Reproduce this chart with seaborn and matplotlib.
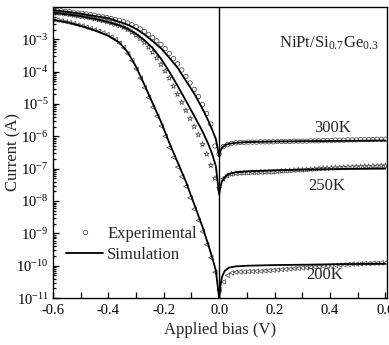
import matplotlib
matplotlib.use("Agg")
import matplotlib.pyplot as plt
from matplotlib.lines import Line2D
from matplotlib.ticker import FixedLocator, FixedFormatter, LogLocator, NullFormatter, MultipleLocator
import numpy as np
import pandas as pd
import seaborn as sns

# ---- measured I-V sweep (bias in V, log10 of current in A) ----
bias_exp = [-0.600, -0.585, -0.570, -0.555, -0.540, -0.525, -0.510, -0.495, -0.480, -0.465,
            -0.450, -0.435, -0.420, -0.405, -0.390, -0.375, -0.360, -0.345, -0.330, -0.315,
            -0.300, -0.285, -0.270, -0.255, -0.240, -0.225, -0.210, -0.195, -0.180, -0.165,
            -0.150, -0.135, -0.120, -0.105, -0.090, -0.075, -0.060, -0.045, -0.030, -0.015,
            0.000, 0.015, 0.030, 0.045, 0.060, 0.075, 0.090, 0.105, 0.120, 0.135,
            0.150, 0.165, 0.180, 0.195, 0.210, 0.225, 0.240, 0.255, 0.270, 0.285,
            0.300, 0.315, 0.330, 0.345, 0.360, 0.375, 0.390, 0.405, 0.420, 0.435,
            0.450, 0.465, 0.480, 0.495, 0.510, 0.525, 0.540, 0.555, 0.570, 0.585, 0.600]

log_exp_300 = [-2.09, -2.11, -2.12, -2.14, -2.15, -2.17, -2.19, -2.20, -2.22, -2.24,
               -2.26, -2.29, -2.31, -2.33, -2.36, -2.39, -2.42, -2.46, -2.50, -2.55,
               -2.61, -2.68, -2.76, -2.85, -2.95, -3.05, -3.16, -3.29, -3.44, -3.60,
               -3.76, -3.95, -4.15, -4.35, -4.55, -4.77, -5.02, -5.30, -5.62, -6.30,
               -6.55, -6.32, -6.26, -6.22, -6.20, -6.19, -6.19, -6.18, -6.18, -6.18,
               -6.17, -6.17, -6.17, -6.17, -6.16, -6.16, -6.16, -6.16, -6.15, -6.15,
               -6.15, -6.15, -6.14, -6.14, -6.14, -6.13, -6.13, -6.13, -6.12, -6.12,
               -6.12, -6.11, -6.11, -6.11, -6.10, -6.10, -6.10, -6.10, -6.09, -6.09, -6.09]

log_exp_250 = [-2.17, -2.19, -2.20, -2.22, -2.24, -2.26, -2.28, -2.30, -2.32, -2.34,
               -2.37, -2.40, -2.43, -2.46, -2.50, -2.54, -2.58, -2.63, -2.70, -2.78,
               -2.87, -2.98, -3.10, -3.24, -3.40, -3.58, -3.78, -3.98, -4.20, -4.45,
               -4.70, -4.95, -5.20, -5.45, -5.70, -5.95, -6.25, -6.55, -6.90, -7.30,
               -7.60, -7.32, -7.22, -7.17, -7.15, -7.14, -7.13, -7.13, -7.12, -7.12,
               -7.11, -7.11, -7.10, -7.10, -7.09, -7.08, -7.07, -7.06, -7.05, -7.04,
               -7.04, -7.03, -7.02, -7.01, -7.00, -6.99, -6.99, -6.98, -6.97, -6.97,
               -6.96, -6.95, -6.95, -6.94, -6.94, -6.93, -6.93, -6.92, -6.92, -6.91, -6.91]

log_exp_200 = [-2.39, -2.41, -2.43, -2.46, -2.49, -2.52, -2.56, -2.59, -2.63, -2.67,
               -2.71, -2.75, -2.80, -2.86, -2.93, -3.01, -3.12, -3.26, -3.45, -3.66,
               -3.92, -4.20, -4.50, -4.80, -5.10, -5.38, -5.68, -6.00, -6.35, -6.65,
               -6.95, -7.25, -7.55, -7.90, -8.25, -8.60, -8.95, -9.35, -9.75, -10.20,
               -10.75, -10.50, -10.30, -10.22, -10.20, -10.19, -10.19, -10.18, -10.18, -10.17,
               -10.17, -10.16, -10.15, -10.14, -10.13, -10.12, -10.11, -10.10, -10.09, -10.08,
               -10.07, -10.06, -10.05, -10.04, -10.03, -10.02, -10.01, -10.00, -9.99, -9.98,
               -9.97, -9.96, -9.95, -9.95, -9.94, -9.93, -9.93, -9.92, -9.92, -9.91, -9.91]

# ---- simulated curves ----
bias_sim = [-0.60, -0.55, -0.50, -0.45, -0.40, -0.36, -0.33, -0.30, -0.27, -0.24,
            -0.21, -0.18, -0.15, -0.12, -0.09, -0.06, -0.04, -0.025, -0.012, 0.0,
            0.005, 0.01, 0.02, 0.035, 0.06, 0.10, 0.20, 0.30, 0.45, 0.60]

log_sim_300 = [-2.10, -2.15, -2.21, -2.28, -2.35, -2.46, -2.55, -2.68, -2.85, -3.06,
               -3.28, -3.57, -3.88, -4.28, -4.68, -5.15, -5.50, -5.80, -6.08, -6.62,
               -6.45, -6.36, -6.28, -6.23, -6.20, -6.18, -6.16, -6.15, -6.14, -6.13]

log_sim_250 = [-2.18, -2.23, -2.29, -2.37, -2.47, -2.57, -2.68, -2.83, -3.03, -3.27,
               -3.60, -4.00, -4.44, -4.90, -5.37, -5.85, -6.22, -6.55, -6.92, -7.80,
               -7.55, -7.40, -7.26, -7.16, -7.11, -7.08, -7.05, -7.03, -7.01, -7.00]

log_sim_200 = [-2.40, -2.47, -2.58, -2.72, -2.89, -3.10, -3.40, -3.85, -4.40, -4.98,
               -5.55, -6.20, -6.80, -7.40, -8.10, -8.80, -9.33, -9.75, -10.15, -11.00,
               -10.60, -10.35, -10.16, -10.06, -10.02, -10.00, -9.98, -9.97, -9.95, -9.94]

temps = ["300K", "250K", "200K"]
markers = {"300K": "o", "250K": "*", "200K": "<"}
marker_sizes = {"300K": 10, "250K": 15, "200K": 10}

exp_logs = {"300K": log_exp_300, "250K": log_exp_250, "200K": log_exp_200}
sim_logs = {"300K": log_sim_300, "250K": log_sim_250, "200K": log_sim_200}

exp_df = pd.concat([
    pd.DataFrame({"bias": bias_exp, "current": 10.0 ** np.array(exp_logs[t]), "T": t})
    for t in temps], ignore_index=True)
sim_df = pd.concat([
    pd.DataFrame({"bias": bias_sim, "current": 10.0 ** np.array(sim_logs[t]), "T": t})
    for t in temps], ignore_index=True)

sns.set_theme(style="ticks")
plt.rcParams["font.family"] = ["Liberation Serif", "DejaVu Serif"]
plt.rcParams["mathtext.fontset"] = "custom"
plt.rcParams["mathtext.rm"] = "Liberation Serif"
plt.rcParams["mathtext.it"] = "Liberation Serif:italic"
plt.rcParams["mathtext.bf"] = "Liberation Serif:bold"
plt.rcParams["axes.linewidth"] = 1.0

fig = plt.figure(figsize=(3.89, 3.45), dpi=100)
ax = fig.add_axes([0.136, 0.136, 0.859, 0.844])
ax.set_yscale("log")

for t in temps:
    sub = exp_df[exp_df["T"] == t]
    sns.scatterplot(data=sub, x="bias", y="current", marker=markers[t],
                    s=marker_sizes[t], facecolors="none", edgecolors="#4a4a4a",
                    linewidths=0.55, ax=ax, legend=False, zorder=3)

for t in temps:
    sub = sim_df[sim_df["T"] == t]
    sns.lineplot(data=sub, x="bias", y="current", color="black", lw=1.3,
                 sort=False, estimator=None, ax=ax, legend=False, zorder=4)

ax.axvline(0.0, color="black", lw=1.0, zorder=2)

ax.set_xlim(-0.6, 0.606)
ax.set_ylim(1e-11, 1e-2)

# x ticks: labels every 0.2 V, extra ticks every 0.1 V
xt = [-0.6, -0.4, -0.2, 0.0, 0.2, 0.4, 0.6]
ax.xaxis.set_major_locator(FixedLocator(xt))
ax.xaxis.set_major_formatter(FixedFormatter([f"{v:.1f}" for v in xt]))
ax.xaxis.set_minor_locator(MultipleLocator(0.1))

# y ticks: one label per decade
exps = list(range(-11, -2))
ax.yaxis.set_major_locator(FixedLocator([10.0 ** e for e in exps]))
ax.yaxis.set_major_formatter(FixedFormatter([rf"$10^{{{e}}}$" for e in exps]))
ax.yaxis.set_minor_locator(LogLocator(base=10, subs=np.arange(2, 10), numticks=30))
ax.yaxis.set_minor_formatter(NullFormatter())

ax.tick_params(axis="both", which="both", direction="in", top=False, right=False,
               labelsize=10.5, colors="black", width=0.9)
ax.tick_params(axis="both", which="major", length=4, pad=4)
ax.tick_params(axis="y", which="major", pad=3)
ax.tick_params(axis="y", which="minor", length=2.5)
ax.tick_params(axis="x", which="minor", length=4)

for s in ax.spines.values():
    s.set_color("black")
    s.set_linewidth(1.0)

ax.set_xlabel("Applied bias (V)", fontsize=12)
ax.set_ylabel("Current (A)", fontsize=12)
ax.xaxis.set_label_coords(0.5, -0.082)
ax.yaxis.set_label_coords(-0.093, 0.5)

ax.text(0.41, 10 ** -5.75, "300K", fontsize=12, ha="center", va="center")
ax.text(0.39, 10 ** -7.54, "250K", fontsize=12, ha="center", va="center")
ax.text(0.38, 10 ** -10.3, "200K", fontsize=12, ha="center", va="center")
ax.text(0.395, 10 ** -3.12, r"NiPt/Si$_{0.7}$Ge$_{0.3}$", fontsize=12, ha="center", va="center")

handles = [
    Line2D([], [], marker="o", linestyle="none", markerfacecolor="none",
           markeredgecolor="#4a4a4a", markersize=3.2, markeredgewidth=0.55),
    Line2D([], [], color="black", lw=1.3),
]
ax.legend(handles, ["Experimental", "Simulation"], loc="center left",
          bbox_to_anchor=(-0.005, 0.185), frameon=False, fontsize=12,
          handlelength=2.2, handletextpad=0.25, labelspacing=0.3)

fig.savefig("out.png", dpi=100)
